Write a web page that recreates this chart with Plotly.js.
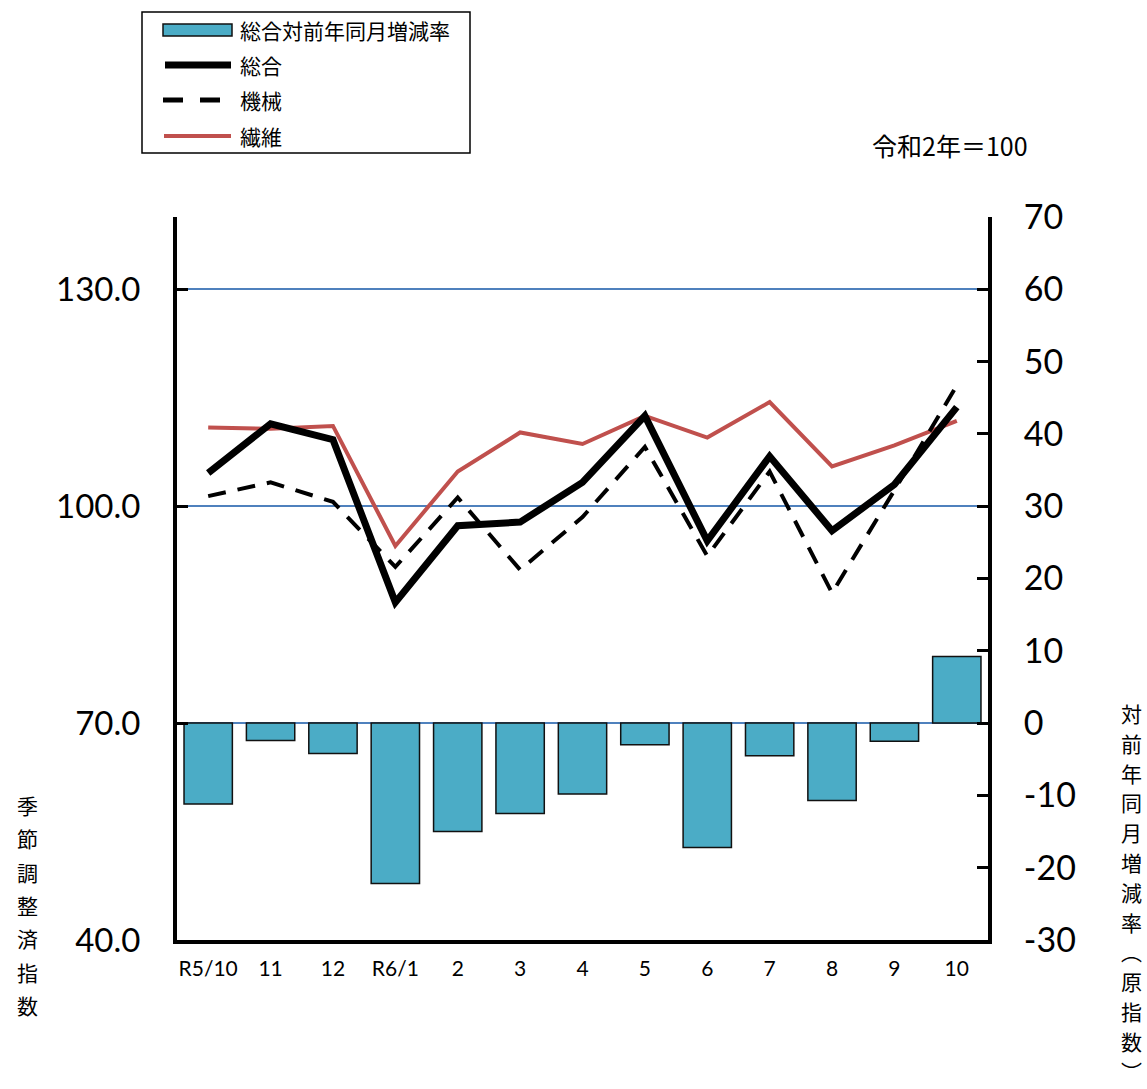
<!DOCTYPE html>
<html>
<head>
<meta charset="utf-8">
<script src="https://cdn.plot.ly/plotly-3.0.1.min.js"></script>
<style>html,body{margin:0;padding:0;background:#fff;}#chart{width:1147px;height:1089px;}</style>
</head>
<body>
<div id="chart"></div>
<script>
// ---- data ----
const categories = ['R5/10','11','12','R6/1','2','3','4','5','6','7','8','9','10'];
const yoyRate = [-11.2,-2.4,-4.2,-22.2,-15.0,-12.5,-9.8,-3.0,-17.2,-4.5,-10.7,-2.5,9.2];
const total = [104.6,111.4,109.2,86.7,97.3,97.8,103.3,112.5,95.2,106.9,96.6,103.0,113.7];
const machinery = [101.4,103.3,100.6,91.6,101.2,91.2,98.5,108.2,93.1,104.8,88.0,102.2,116.7];
const textile = [110.9,110.7,111.1,94.5,104.8,110.2,108.6,112.5,109.5,114.4,105.5,108.4,111.8];
const leftTicks = [40,70,100,130];
const rightTicks = [-30,-20,-10,0,10,20,30,40,50,60,70];
const seriesNames = ['総合対前年同月増減率','総合','機械','繊維'];
const leftTitle = '季節調整済指数';
const rightTitle = '対前年同月増減率︵原指数︶';
const baseNote = '令和2年＝100';

// ---- layout helpers (pixel -> paper) ----
const L = 177, R = 988, T = 217, B = 940;
const W = 1147, H = 1089;
const px = x => (x - L) / (R - L);
const py = y => (B - y) / (B - T);

const JP = '"Noto Sans CJK JP", "Noto Sans", sans-serif';
const NUM = 'Lato, "Liberation Sans", sans-serif';

const traces = [
  {type:'bar', x:categories, y:yoyRate, yaxis:'y2', name:seriesNames[0],
   marker:{color:'#4bacc6', line:{color:'#111', width:1.5}}, width:0.775, showlegend:false},
  {type:'scatter', mode:'lines', x:categories, y:textile, name:seriesNames[3],
   line:{color:'#c0504d', width:4}, showlegend:false},
  {type:'scatter', mode:'lines', x:categories, y:machinery, name:seriesNames[2],
   line:{color:'#000', width:4, dash:'18px,12px'}, showlegend:false},
  {type:'scatter', mode:'lines', x:categories, y:total, name:seriesNames[1],
   line:{color:'#000', width:7}, showlegend:false}
];

const annotations = [];
// legend texts
const legRows = [30, 65, 100, 136];
seriesNames.forEach((n, i) => {
  annotations.push({xref:'paper', yref:'paper', x:px(238), y:py(legRows[i]), xanchor:'left', yanchor:'middle',
    text:n, showarrow:false, font:{family:JP, size:21, color:'#000'}});
});
// base note
annotations.push({xref:'paper', yref:'paper', x:px(950), y:py(145), xanchor:'center', yanchor:'middle',
  text:baseNote, showarrow:false, font:{family:JP, size:25, color:'#000'}});
// vertical axis titles
Array.from(leftTitle).forEach((c, i) => {
  annotations.push({xref:'paper', yref:'paper', x:px(27), y:py(805 + i*33.3), xanchor:'center', yanchor:'middle',
    text:c, showarrow:false, font:{family:JP, size:21, color:'#000'}});
});
Array.from(rightTitle).forEach((c, i) => {
  annotations.push({xref:'paper', yref:'paper', x:px(1131), y:py(713 + i*29.8), xanchor:'center', yanchor:'middle',
    text:c, showarrow:false, font:{family:JP, size:21, color:'#000'}});
});

const shapes = [
  // legend box
  {type:'rect', xref:'paper', yref:'paper', x0:px(142), x1:px(470), y0:py(12), y1:py(153),
   line:{color:'#000', width:1.5}, fillcolor:'rgba(0,0,0,0)'},
  // bar swatch
  {type:'rect', xref:'paper', yref:'paper', x0:px(163), x1:px(232), y0:py(24), y1:py(36),
   line:{color:'#111', width:1.5}, fillcolor:'#4bacc6'},
  // total swatch
  {type:'line', xref:'paper', yref:'paper', x0:px(165), x1:px(231), y0:py(65), y1:py(65),
   line:{color:'#000', width:7}},
  // machinery swatch
  {type:'line', xref:'paper', yref:'paper', x0:px(163), x1:px(232), y0:py(100), y1:py(100),
   line:{color:'#000', width:5, dash:'20px,17px'}},
  // textile swatch
  {type:'line', xref:'paper', yref:'paper', x0:px(164), x1:px(231), y0:py(136), y1:py(136),
   line:{color:'#c0504d', width:4}}
];

const layout = {
  width:W, height:H,
  margin:{l:L, r:W-R, t:T, b:H-B, pad:0},
  paper_bgcolor:'#fff', plot_bgcolor:'#fff',
  showlegend:false,
  bargap:0.225,
  xaxis:{type:'category', range:[-0.5, 12.5], showgrid:false, zeroline:false,
    showline:true, linecolor:'#000', linewidth:4, ticks:'', ticklabelstandoff:7,
    tickfont:{family:NUM, size:21, color:'#000'}, fixedrange:true},
  yaxis:{range:[40,140], tickvals:leftTicks, ticktext:leftTicks.map(v=>v.toFixed(1)),
    showgrid:true, gridcolor:'#4f81bd', gridwidth:2, zeroline:false,
    showline:true, linecolor:'#000', linewidth:4, ticks:'inside', ticklen:11, tickwidth:3, tickcolor:'#000',
    ticklabelstandoff:26, tickfont:{family:NUM, size:33, color:'#000'}},
  yaxis2:{range:[-30,70], tickvals:rightTicks, ticktext:rightTicks.map(v=>String(v)), overlaying:'y', side:'right',
    showgrid:false, zeroline:false,
    showline:true, linecolor:'#000', linewidth:4, ticks:'inside', ticklen:11, tickwidth:3, tickcolor:'#000',
    ticklabelstandoff:25, tickfont:{family:NUM, size:34, color:'#000'}},
  annotations:annotations,
  shapes:shapes
};

Plotly.newPlot('chart', traces, layout, {displayModeBar:false, staticPlot:true});
</script>
</body>
</html>
